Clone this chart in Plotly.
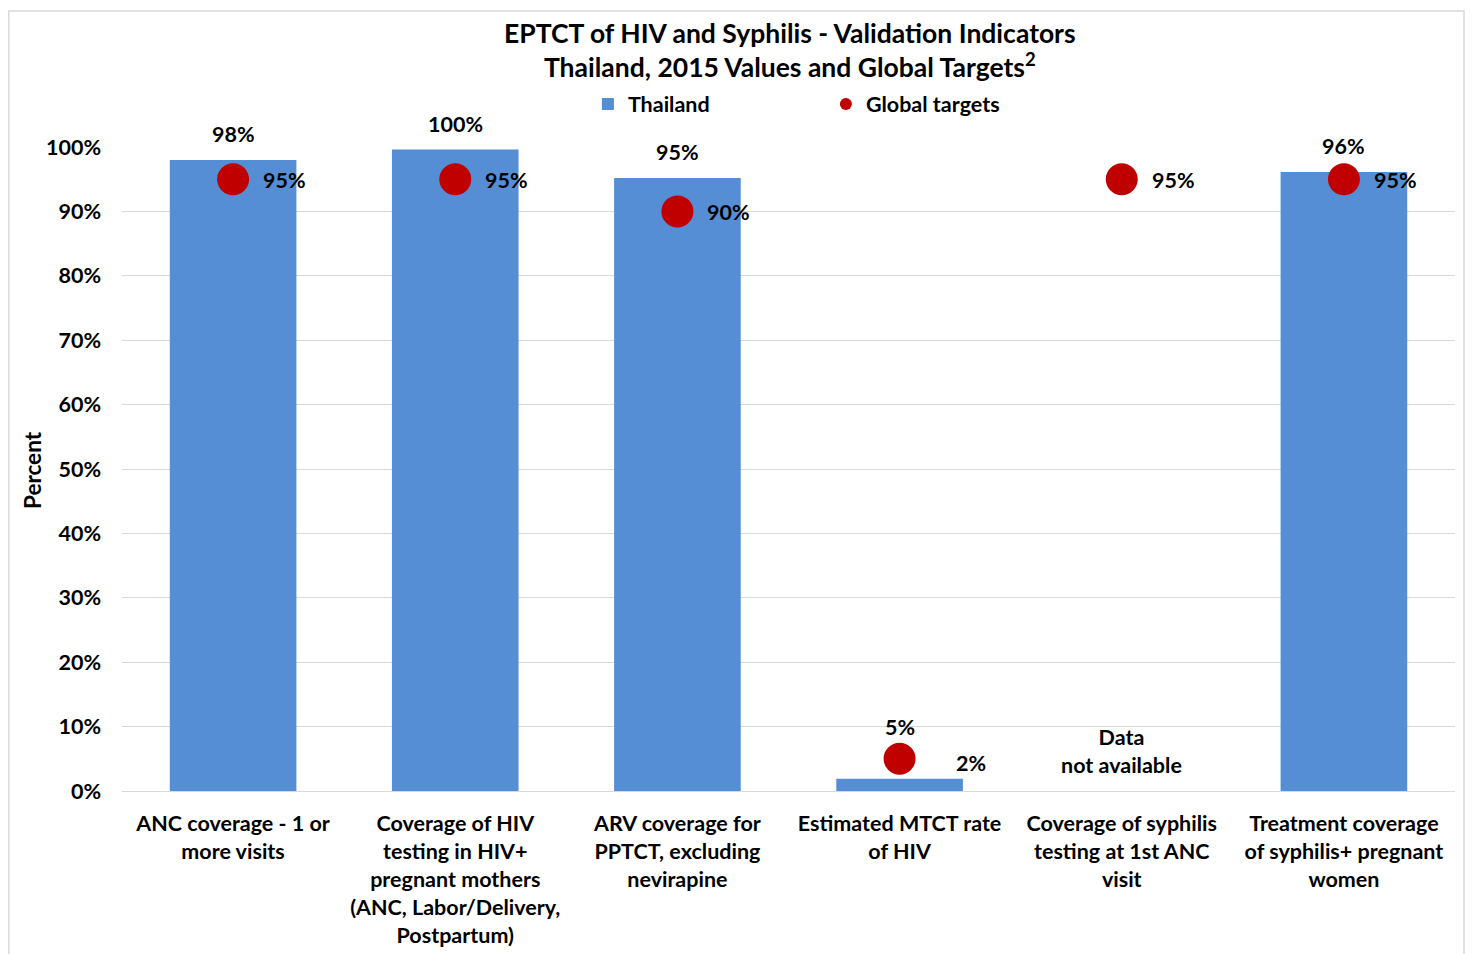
import plotly.graph_objects as go

categories = [
    "ANC coverage - 1 or<br>more visits",
    "Coverage of HIV<br>testing in HIV+<br>pregnant mothers<br>(ANC, Labor/Delivery,<br>Postpartum)",
    "ARV coverage for<br>PPTCT, excluding<br>nevirapine",
    "Estimated MTCT rate<br>of HIV",
    "Coverage of syphilis<br>testing at 1st ANC<br>visit",
    "Treatment coverage<br>of syphilis+ pregnant<br>women",
]
thailand = [98, 99.6, 95.2, 1.9, None, 96.1]
thailand_labels = ["98%", "100%", "95%", "5%", "", "96%"]
targets = [95, 95, 90, 5, 95, 95]
target_labels = ["95%", "95%", "90%", "2%", "95%", "95%"]
tick_vals = [0, 10, 20, 30, 40, 50, 60, 70, 80, 90, 100]
tick_text = [f"{v}%" for v in tick_vals]

FONT = "Lato"
FS = 21.5
BAR_COLOR = "#558ED5"
DOT_COLOR = "#C00000"

# page body has an 8px default margin; compensate so the plot lands where the reference has it
OFF = 8
W, H = 1473 - OFF, 954 - OFF
ML, MR, MT, MB = 122 - OFF, 18, 147 - OFF, 163
PW, PH = W - ML - MR, H - MT - MB

fig = go.Figure()
fig.add_trace(go.Bar(
    x=categories, y=thailand, name="Thailand",
    marker=dict(color=BAR_COLOR, line=dict(width=0)),
    hoverinfo="skip",
))
fig.add_trace(go.Scatter(
    x=categories, y=targets, name="Global targets", mode="markers",
    marker=dict(color=DOT_COLOR, size=32),
    cliponaxis=False, hoverinfo="skip",
))

annotations = []
for i, (c, v, lab) in enumerate(zip(categories, thailand, thailand_labels)):
    if v is None or not lab:
        continue
    shift = 11 if i != 3 else 37
    annotations.append(dict(
        x=c, y=v, text=f"<b>{lab}</b>", showarrow=False, yanchor="bottom",
        yshift=shift, font=dict(family=FONT, size=FS, color="black"),
    ))
for i, (c, v, lab) in enumerate(zip(categories, targets, target_labels)):
    annotations.append(dict(
        x=c, y=v, text=f"<b>{lab}</b>", showarrow=False, xanchor="left",
        yanchor="middle", xshift=28 if i != 3 else 54, yshift=-1 if i != 3 else -4,
        font=dict(family=FONT, size=FS, color="black"),
    ))
annotations.append(dict(
    x=categories[4], y=0, text="<b>Data<br>not available</b>", showarrow=False,
    yanchor="bottom", yshift=11, font=dict(family=FONT, size=FS, color="black"),
))
annotations.append(dict(
    xref="paper", yref="paper", x=(790 - 122) / PW, y=(791 - 50) / PH,
    xanchor="center", yanchor="middle",
    text="<b>EPTCT of HIV and Syphilis - Validation Indicators<br>Thailand, 2015 Values and Global Targets<sup>2</sup></b>",
    showarrow=False, font=dict(family=FONT, size=26.5, color="black"),
))
annotations.append(dict(
    xref="paper", yref="paper", x=(32 - 122) / PW, y=(791 - 470) / PH,
    xanchor="center", yanchor="middle", textangle=-90,
    text="<b>Percent</b>", showarrow=False,
    font=dict(family=FONT, size=22.5, color="black"),
))

fig.update_layout(
    width=W, height=H,
    margin=dict(l=ML, r=MR, t=MT, b=MB, autoexpand=False),
    paper_bgcolor="white", plot_bgcolor="white",
    font=dict(family=FONT, size=FS, color="black"),
    bargap=0.43,
    showlegend=True,
    legend=dict(
        orientation="h", x=0.3495, xanchor="left", y=(791 - 104) / PH, yanchor="middle",
        entrywidth=193, entrywidthmode="pixels",
        font=dict(family=FONT, size=FS, color="black", weight="bold"),
        itemsizing="constant", bgcolor="rgba(0,0,0,0)",
    ),
    annotations=annotations,
    shapes=[dict(
        type="rect", xref="paper", yref="paper",
        x0=(8.8 - 122) / PW, x1=(1464 - 122) / PW, y0=-0.3, y1=(791 - 11) / PH,
        line=dict(color="#D9D9D9", width=1.5), layer="below",
    )],
)
fig.update_xaxes(
    showgrid=False, showline=True, linecolor="#D9D9D9", linewidth=1,
    tickfont=dict(family=FONT, size=FS, color="black", weight="bold"),
    ticks="", ticklabelstandoff=13, automargin=False,
)
fig.update_yaxes(
    range=[0, 100], tickmode="array", tickvals=tick_vals, ticktext=tick_text,
    showgrid=True, gridcolor="#D9D9D9", gridwidth=1, zeroline=False,
    tickfont=dict(family=FONT, size=FS, color="black", weight="bold"),
    ticks="", ticklabelstandoff=20, automargin=False,
)

fig.write_html("out.html")
